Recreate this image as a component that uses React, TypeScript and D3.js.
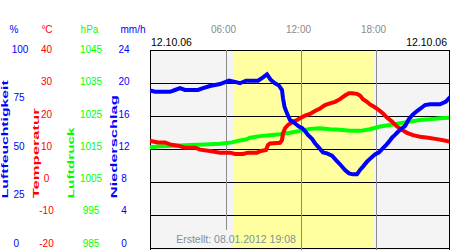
import React from "react";
import * as d3 from "d3";

// ---- data ----
const humHours = [0, 0.32, 1.52, 1.92, 2.32, 2.72, 3.76, 4.16, 4.72, 5.52, 6.24, 6.64, 7.12, 7.6, 8.56, 8.96, 9.28, 9.6, 9.92, 10.24, 10.48, 10.56, 10.68, 10.88, 11.12, 11.36, 11.6, 11.84, 12.08, 12.32, 12.56, 12.88, 13.12, 13.36, 13.76, 14.08, 14.48, 14.8, 15.12, 15.52, 15.84, 16.16, 16.48, 16.72, 16.96, 17.28, 17.6, 17.92, 18.24, 18.56, 18.8, 19.04, 19.28, 19.52, 19.76, 20.0, 20.32, 20.64, 20.96, 21.28, 21.6, 21.92, 22.32, 23.12, 23.6, 23.84];
const humValues = [79.4, 78.9, 78.9, 79.8, 80.7, 79.8, 79.8, 80.7, 81.8, 82.8, 84.5, 84.0, 83.2, 84.5, 84.5, 86.2, 87.7, 84.8, 83.2, 82.0, 79.8, 75.6, 71.4, 68.0, 64.6, 63.8, 62.5, 61.3, 60.6, 59.1, 57.1, 55.1, 52.9, 51.2, 48.3, 47.8, 46.6, 44.4, 42.3, 39.4, 37.7, 37.2, 37.2, 39.4, 41.1, 43.6, 45.5, 47.3, 48.3, 50.4, 52.0, 53.7, 55.7, 57.1, 58.7, 60.1, 61.6, 65.2, 67.5, 69.2, 70.6, 72.2, 72.6, 72.6, 73.9, 75.6];

const tempHours = [0, 0.56, 1.12, 1.52, 2.16, 2.72, 3.52, 3.92, 4.72, 5.52, 6.32, 6.72, 7.36, 7.76, 8.48, 8.8, 9.2, 9.36, 9.52, 10.32, 10.48, 10.56, 10.72, 10.96, 11.28, 11.68, 11.92, 12.32, 12.72, 13.12, 13.52, 13.92, 14.32, 14.72, 15.12, 15.52, 15.84, 16.08, 16.48, 16.72, 16.96, 17.28, 17.52, 17.84, 18.16, 18.56, 18.88, 19.28, 19.68, 20.08, 20.48, 20.96, 21.52, 22.16, 22.88, 23.68, 23.84];
const tempValues = [12.4, 12.0, 12.0, 11.4, 11.0, 10.4, 10.4, 9.8, 9.4, 8.9, 8.9, 8.5, 8.5, 8.9, 8.9, 9.4, 9.7, 11.2, 11.7, 11.9, 12.7, 14.8, 16.3, 17.3, 18.1, 18.8, 19.3, 20.1, 20.6, 21.5, 22.3, 23.3, 23.8, 24.3, 25.1, 26.2, 26.9, 26.9, 26.7, 26.2, 25.1, 24.3, 23.5, 22.8, 22.0, 20.8, 19.5, 18.3, 16.8, 15.8, 14.9, 14.2, 13.7, 13.4, 13.0, 12.4, 12.3];

const pressHours = [0, 0.72, 1.92, 3.12, 4.32, 5.52, 6.48, 7.12, 7.68, 7.92, 8.72, 9.52, 10.32, 11.12, 11.92, 12.72, 13.52, 14.32, 15.12, 15.92, 16.72, 17.52, 18.32, 19.12, 19.92, 20.72, 21.52, 22.32, 23.12, 23.84];
const pressValues = [1015.5, 1015.8, 1016.0, 1016.2, 1016.4, 1016.6, 1017.0, 1017.6, 1018.0, 1018.4, 1018.9, 1019.2, 1019.5, 1019.9, 1020.5, 1021.1, 1021.3, 1021.0, 1020.8, 1020.5, 1020.5, 1021.0, 1021.8, 1022.3, 1022.8, 1023.3, 1023.8, 1024.0, 1024.3, 1024.5];

const humTicks = [100, 75, 50, 25, 0];
const tempTicks = [40, 30, 20, 10, 0, -10, -20];
const pressTicks = [1045, 1035, 1025, 1015, 1005, 995, 985];
const precipTicks = [24, 20, 16, 12, 8, 4, 0];
const timeTicks = [6, 12, 18];
const timeLabels = ["06:00", "12:00", "18:00"];
const daylight = [6.56, 17.76];
const dateLabel = "12.10.06";
const createdLabel = "Erstellt: 08.01.2012 19:08";

const FONT = "'Liberation Sans', Arial, sans-serif";

export default function App() {
  const left = 150, right = 449, top = 50, bottom = 248;
  const x = d3.scaleLinear().domain([0, 24]).range([151, 451]);
  const yHum = d3.scaleLinear().domain([0, 100]).range([bottom, top]);
  const yTemp = d3.scaleLinear().domain([-20, 40]).range([bottom, top]);
  const yPress = d3.scaleLinear().domain([985, 1045]).range([bottom, top]);
  const lab = (d: number[], v: number) =>
    d3.scaleLinear().domain(d).range([244, 50.3])(v);

  const mk = (hs: number[], vs: number[], ys: d3.ScaleLinear<number, number>) =>
    d3.line<number>().x((_, i) => x(hs[i])).y((v) => ys(v))(vs) || "";

  const blue = "#0000ff", red = "#ff0000", green = "#00ff00";
  const gray = "#8a8a8a";

  return (
    <svg width={450} height={250} style={{ position: "absolute", left: 0, top: 0 }} fontFamily={FONT}>
      <defs>
        <clipPath id="plot">
          <rect x={left} y={top} width={right - left} height={bottom - top} />
        </clipPath>
      </defs>
      <rect x={0} y={0} width={450} height={250} fill="#ffffff" />
      <rect x={left} y={top} width={right - left} height={bottom - top + 2} fill="#f4f4f4" />
      <rect x={x(daylight[0])} y={top} width={x(daylight[1]) - x(daylight[0])} height={bottom - top + 2} fill="#ffffa0" />
      {tempTicks.map((t) => (
        <line key={t} x1={left} x2={right} y1={Math.round(yTemp(t)) + 0.5} y2={Math.round(yTemp(t)) + 0.5} stroke="#000" strokeWidth={1} />
      ))}
      {timeTicks.map((h, i) => (
        <line key={h} x1={Math.round(x(h)) + 0.5} x2={Math.round(x(h)) + 0.5} y1={top} y2={i === 0 ? 230 : bottom + 2} stroke={gray} strokeWidth={1} />
      ))}
      <line x1={left + 0.5} x2={left + 0.5} y1={top} y2={250} stroke="#000" />
      <line x1={right + 0.5} x2={right + 0.5} y1={top} y2={250} stroke="#000" />
      <g clipPath="url(#plot)" fill="none" strokeWidth={4} strokeLinejoin="miter" strokeLinecap="square">
        <path d={mk(pressHours, pressValues, yPress)} stroke={green} />
        <path d={mk(tempHours, tempValues, yTemp)} stroke={red} />
        <path d={mk(humHours, humValues, yHum)} stroke={blue} />
      </g>
      {timeTicks.map((h, i) => (
        <text key={h} x={x(h) - 2.5} y={30} fontSize={10} fill={gray} textAnchor="middle" dominantBaseline="middle">{timeLabels[i]}</text>
      ))}
      <text x={151} y={43.5} fontSize={10.5} fill="#000" dominantBaseline="middle">{dateLabel}</text>
      <text x={447} y={43.5} fontSize={10.5} fill="#000" textAnchor="end" dominantBaseline="middle">{dateLabel}</text>
      <text x={236} y={240.5} fontSize={10.5} fill="#8090a0" textAnchor="middle" dominantBaseline="middle">{createdLabel}</text>

      {/* unit headers */}
      <text x={14} y={30.5} fontSize={10} fill={blue} textAnchor="middle" dominantBaseline="middle">%</text>
      <text x={47} y={30.5} fontSize={10} fill={red} textAnchor="middle" dominantBaseline="middle">°C</text>
      <text x={89.5} y={30.5} fontSize={10} fill={green} textAnchor="middle" dominantBaseline="middle">hPa</text>
      <text x={133} y={30.5} fontSize={10} fill={blue} textAnchor="middle" dominantBaseline="middle">mm/h</text>

      {humTicks.map((t) => (
        <text key={t} x={t === 100 ? 20 : 13.5} y={lab([0, 100], t)} fontSize={10} fill={blue} textAnchor={t === 100 ? "middle" : "start"} dominantBaseline="middle">{t}</text>
      ))}
      {tempTicks.map((t) => (
        <text key={t} x={46.5} y={lab([-20, 40], t)} fontSize={10} fill={red} textAnchor="middle" dominantBaseline="middle">{t}</text>
      ))}
      {pressTicks.map((t) => (
        <text key={t} x={91} y={lab([985, 1045], t)} fontSize={10} fill={green} textAnchor="middle" dominantBaseline="middle">{t}</text>
      ))}
      {precipTicks.map((t) => (
        <text key={t} x={124} y={lab([0, 24], t)} fontSize={10} fill={blue} textAnchor="middle" dominantBaseline="middle">{t}</text>
      ))}

      {/* rotated axis titles */}
      <text transform="translate(8.3,198.3) rotate(-90)" fontSize={9.5} fontWeight="bold" fill={blue} textLength={118} lengthAdjust="spacingAndGlyphs">Luftfeuchtigkeit</text>
      <text transform="translate(39,198.3) rotate(-90)" fontSize={9.5} fontWeight="bold" fill={red} textLength={90} lengthAdjust="spacingAndGlyphs">Temperatur</text>
      <text transform="translate(74,198.3) rotate(-90)" fontSize={9.5} fontWeight="bold" fill={green} textLength={71} lengthAdjust="spacingAndGlyphs">Luftdruck</text>
      <text transform="translate(116.7,198.3) rotate(-90)" fontSize={9.5} fontWeight="bold" fill={blue} textLength={103} lengthAdjust="spacingAndGlyphs">Niederschlag</text>
    </svg>
  );
}
